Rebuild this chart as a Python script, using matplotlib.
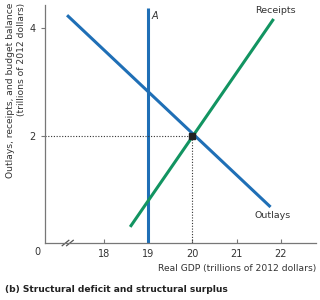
import matplotlib
matplotlib.use("Agg")
import matplotlib.pyplot as plt

# data
outlays_x = [17.16, 21.77]
outlays_y = [4.24, 0.67]
receipts_x = [18.59, 21.84]
receipts_y = [0.30, 4.17]
potential_gdp = 19.0
a_top = 4.37
eq_x, eq_y = 20.0, 2.0
xticks = [18, 19, 20, 21, 22]
yticks = [2, 4]

blue = '#1f6fb6'
green = '#129461'
txt = '#333333'

plt.rcParams['font.family'] = ['DejaVu Sans']
fig = plt.figure(figsize=(3.2, 3.0), dpi=100)
ax = fig.add_axes([45 / 320, 57 / 300, 271 / 320, 238 / 300])
ax.set_xlim(16.66, 22.8)
ax.set_ylim(0, 4.43)

ax.plot([potential_gdp, potential_gdp], [0, a_top], color=blue, lw=2.2, solid_capstyle='butt')
ax.plot(outlays_x, outlays_y, color=blue, lw=2.2, solid_capstyle='butt')
ax.plot(receipts_x, receipts_y, color=green, lw=2.2, solid_capstyle='butt')

ax.plot([16.66, eq_x], [eq_y, eq_y], color=txt, lw=0.8, ls=(0, (1, 1.5)))
ax.plot([eq_x, eq_x], [0, eq_y], color=txt, lw=0.8, ls=(0, (1, 1.5)))
ax.plot(eq_x, eq_y, marker='s', color='#222222', ms=5, zorder=5)

ax.text(potential_gdp + 0.08, a_top - 0.05, 'A', fontsize=7, style='italic', color=txt, va='top')
ax.text(receipts_x[1] + 0.05, receipts_y[1] + 0.07, 'Receipts', fontsize=6.8, color=txt, ha='center', va='bottom')
ax.text(outlays_x[1] + 0.05, outlays_y[1] - 0.08, 'Outlays', fontsize=6.8, color=txt, ha='center', va='top')

for s in ['top', 'right']:
    ax.spines[s].set_visible(False)
for s in ['left', 'bottom']:
    ax.spines[s].set_color('#777777')
    ax.spines[s].set_linewidth(0.9)

ax.set_xticks(xticks)
ax.set_yticks(yticks)
ax.tick_params(axis='x', direction='in', length=3, colors='#777777', labelcolor=txt, labelsize=7, pad=4)
ax.tick_params(axis='y', direction='out', length=3, colors='#777777', labelcolor=txt, labelsize=7)

# axis break
for dx in [0, 0.1]:
    ax.plot([17.05 + dx, 17.2 + dx], [-0.05, 0.05], color='#555555', lw=0.9, clip_on=False)

fig.text(37 / 320, 1 - 252 / 300, '0', fontsize=7, color=txt, ha='center', va='center')
ax.set_xlabel('Real GDP (trillions of 2012 dollars)', fontsize=6.6, color=txt)
ax.xaxis.set_label_coords(1.0, -0.09)
ax.xaxis.label.set_horizontalalignment('right')
ax.set_ylabel('Outlays, receipts, and budget balance\n(trillions of 2012 dollars)', fontsize=6.6,
              color=txt, linespacing=1.25, multialignment='right')
ax.yaxis.set_label_coords(-0.07, 0.64)

fig.text(5 / 320, 1 - 290 / 300, '(b) Structural deficit and structural surplus', fontsize=6.6,
         fontweight='bold', color='#222222', va='center')

fig.savefig('out.png', dpi=100)
